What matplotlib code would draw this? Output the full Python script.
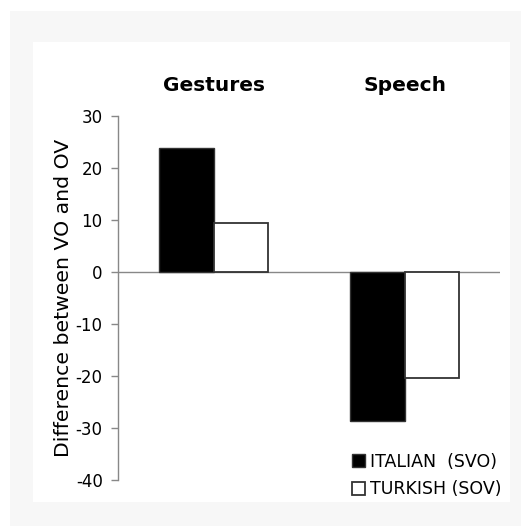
import matplotlib.pyplot as plt
import numpy as np
from matplotlib.patches import Rectangle

# Data
categories = ['Gestures', 'Speech']
italian = [23.8, -28.6]
turkish = [9.5, -20.4]
series_labels = ['ITALIAN  (SVO)', 'TURKISH (SOV)']
yticks = [-40, -30, -20, -10, 0, 10, 20, 30]

fig = plt.figure(figsize=(5.21, 5.26), dpi=100, facecolor='white')

# light gray frame with white panel inside
fig.patches.append(Rectangle((0.0192, 0.0), 0.9808, 0.979, transform=fig.transFigure,
                             facecolor='#f7f7f7', edgecolor='none', zorder=-2))
fig.patches.append(Rectangle((0.0633, 0.0456), 0.9155, 0.8745, transform=fig.transFigure,
                             facecolor='white', edgecolor='none', zorder=-1))

ax = fig.add_axes([0.2265, 0.0875, 0.7332, 0.692])
ax.set_facecolor('none')

index = np.arange(len(categories))
bar_width = 0.285

b1 = ax.bar(index - bar_width / 2, italian, bar_width, color='black',
            edgecolor='#333333', linewidth=1, label=series_labels[0], zorder=3)
b2 = ax.bar(index + bar_width / 2, turkish, bar_width, color='white',
            edgecolor='#333333', linewidth=1.3, label=series_labels[1], zorder=3)

ax.axhline(0, color='#888888', linewidth=1, zorder=2)

ax.set_xlim(-0.5, 1.5)
ax.set_ylim(-40, 30)
ax.set_yticks(yticks)
ax.set_yticklabels([str(t) for t in yticks])
ax.set_xticks([])

ax.tick_params(axis='y', direction='out', length=5, width=1, color='#888888',
               labelsize=12, pad=6)

for side in ['top', 'right', 'bottom']:
    ax.spines[side].set_visible(False)
ax.spines['left'].set_color('#888888')
ax.spines['left'].set_linewidth(1)

ax.set_ylabel('Difference between VO and OV', fontsize=14.7, labelpad=2)

# group titles above the bars
for i, name in enumerate(categories):
    ax.text(i, 1.085, name, transform=ax.get_xaxis_transform(), ha='center',
            va='center', fontsize=14.5, fontweight='bold')

ax.legend(loc='upper left', bbox_to_anchor=(0.612, 0.075), frameon=False,
          fontsize=12.5, handlelength=0.75, handleheight=0.75, handletextpad=0.3,
          labelspacing=0.55, borderpad=0, borderaxespad=0)

fig.savefig('out.png', dpi=100, facecolor=fig.get_facecolor())
